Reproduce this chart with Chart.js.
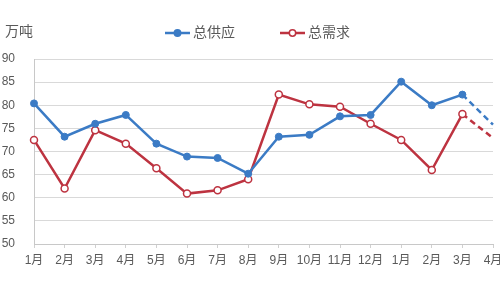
<!DOCTYPE html>
<html>
<head>
<meta charset="utf-8">
<script src="https://cdn.jsdelivr.net/npm/chart.js@4/dist/chart.umd.min.js"></script>
<style>
  html, body { margin: 0; padding: 0; background: #fff; }
  #wrap { width: 500px; height: 282px; position: relative; }
</style>
</head>
<body>
<div id="wrap"><canvas id="SupplyChart"></canvas></div>
<script>
// data
const months = ["1月", "2月", "3月", "4月", "5月", "6月", "7月", "8月", "9月", "10月", "11月", "12月", "1月", "2月", "3月", "4月"];
const supplyValues = [80.4, 73.2, 76, 77.9, 71.7, 68.9, 68.6, 65.2, 73.2, 73.6, 77.6, 77.9, 85.1, 80, 82.3, 75.8];
const demandValues = [72.5, 62, 74.6, 71.7, 66.4, 60.9, 61.6, 64, 82.3, 80.2, 79.7, 76, 72.5, 66, 78.1, 72.9];
const unitLabel = "万吨";

const blue = "#3b7bc5";
const red = "#bd3340";
const textColor = "#595959";
const fontFamily = '"Liberation Sans", "Noto Sans CJK SC", sans-serif';
const lastIdx = months.length - 1;

// last segment is a forecast -> dashed, no marker at the end
const dashLast = ctx => ctx.p1DataIndex === lastIdx ? [6, 4] : undefined;
const radiusFn = ctx => ctx.dataIndex === lastIdx ? 0 : 3.5;

// unit text + legend drawn at the top
const header = {
  id: 'header',
  afterDraw(chart) {
    const c = chart.ctx;
    c.save();
    c.fillStyle = textColor;
    c.font = '14px ' + fontFamily;
    c.textBaseline = 'middle';
    c.textAlign = 'left';
    c.fillText(unitLabel, 5, 32);

    const items = [{x: 165}, {x: 280}];
    chart.data.datasets.forEach((ds, i) => {
      const x = items[i].x, y = 33;
      c.strokeStyle = ds.borderColor;
      c.lineWidth = 2.5;
      c.beginPath();
      c.moveTo(x, y);
      c.lineTo(x + 25, y);
      c.stroke();
      c.beginPath();
      c.arc(x + 12.5, y, 3.2, 0, Math.PI * 2);
      c.fillStyle = ds.pointBackgroundColor;
      c.fill();
      c.lineWidth = 1.5;
      c.stroke();
      c.fillStyle = textColor;
      c.fillText(ds.label, x + 28, y);
    });
    c.restore();
  }
};

new Chart("SupplyChart", {
  type: "line",
  data: {
    labels: months,
    datasets: [{
      label: "总供应",
      data: supplyValues,
      borderColor: blue,
      backgroundColor: blue,
      pointBackgroundColor: blue,
      pointBorderColor: blue,
      borderWidth: 2.5,
      pointRadius: radiusFn,
      pointBorderWidth: 1,
      tension: 0,
      clip: false,
      segment: { borderDash: dashLast }
    }, {
      label: "总需求",
      data: demandValues,
      borderColor: red,
      backgroundColor: red,
      pointBackgroundColor: "#ffffff",
      pointBorderColor: red,
      borderWidth: 2.5,
      pointRadius: radiusFn,
      pointBorderWidth: 1.5,
      tension: 0,
      clip: false,
      segment: { borderDash: dashLast }
    }]
  },
  options: {
    responsive: true,
    maintainAspectRatio: false,
    animation: false,
    layout: { padding: { top: 59, left: 0, right: 7, bottom: 0 } },
    plugins: {
      legend: { display: false },
      tooltip: { enabled: false }
    },
    scales: {
      x: {
        offset: false,
        afterFit: s => { s.height = 38; s.paddingLeft = 0; s.paddingRight = 0; },
        grid: { drawOnChartArea: false, drawTicks: true, tickLength: 4, color: "#d0d0d0" },
        border: { color: "#c8c8c8" },
        ticks: { color: textColor, font: { size: 12, family: fontFamily }, padding: 5, maxRotation: 0, autoSkip: false }
      },
      y: {
        min: 50,
        max: 90,
        afterFit: s => { s.width = 34; },
        grid: { color: "#d9d9d9", drawTicks: false },
        border: { color: "#c8c8c8" },
        ticks: { stepSize: 5, color: textColor, font: { size: 12, family: fontFamily }, padding: 19, crossAlign: "near" }
      }
    }
  },
  plugins: [header]
});
</script>
</body>
</html>
